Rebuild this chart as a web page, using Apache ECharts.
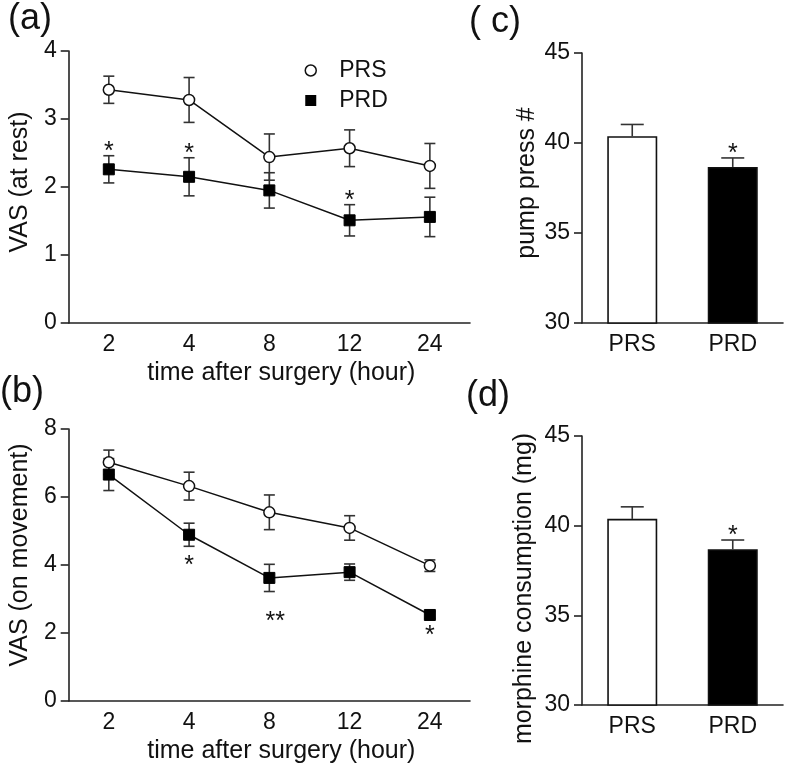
<!DOCTYPE html>
<html>
<head>
<meta charset="utf-8">
<script src="https://cdn.jsdelivr.net/npm/echarts@6/dist/echarts.min.js"></script>
<style>
html,body{margin:0;padding:0;background:#fff;}
#chart{width:787px;height:769px;}
</style>
</head>
<body>
<div id="chart"></div>
<script>
// ---- data ----
const hours = ['2', '4', '8', '12', '24'];
const prsRest = [3.43, 3.28, 2.44, 2.57, 2.31];
const prsRestSE = [0.20, 0.33, 0.34, 0.27, 0.33];
const prdRest = [2.26, 2.15, 1.95, 1.51, 1.56];
const prdRestSE = [0.20, 0.28, 0.26, 0.23, 0.29];
const prsMove = [7.02, 6.32, 5.55, 5.09, 3.98];
const prsMoveSE = [0.36, 0.41, 0.51, 0.36, 0.17];
const prdMove = [6.66, 4.89, 3.62, 3.79, 2.53];
const prdMoveSE = [0.47, 0.34, 0.40, 0.24, 0.10];
const groups = ['PRS', 'PRD'];
const pumpPress = [40.38, 38.67];
const pumpPressSE = [0.65, 0.50];
const morphine = [40.38, 38.69];
const morphineSE = [0.67, 0.51];
const starsRest = ['*', '*', '', '*', ''];
const starsMove = ['', '*', '**', '', '*'];
const starsPump = ['', '*'];
const starsMorphine = ['', '*'];

// ---- style constants ----
const FONT = '"Liberation Sans", Arial, sans-serif';
const INK = '#111';
const AX = '#222';
const starDyMove = [0, 20, 31, 0, 18];
const starDxMove = [0, 0, 6, 0, 0];

const chart = echarts.init(document.getElementById('chart'));

function errBars(xi, yi, means, ses, upperOnly, capHalf) {
  return {
    type: 'custom', xAxisIndex: xi, yAxisIndex: yi, z: 1, silent: true,
    data: means.map((m, i) => [i, m, ses[i]]),
    encode: { x: 0, y: 1 },
    renderItem: function (params, api) {
      const i = api.value(0), m = api.value(1), s = api.value(2);
      const top = api.coord([i, m + s]);
      const bot = api.coord([i, upperOnly ? m : m - s]);
      const st = { stroke: '#333', lineWidth: 1.6 };
      const kids = [
        { type: 'line', shape: { x1: top[0], y1: top[1], x2: bot[0], y2: bot[1] }, style: st },
        { type: 'line', shape: { x1: top[0] - capHalf, y1: top[1], x2: top[0] + capHalf, y2: top[1] }, style: st }
      ];
      if (!upperOnly) {
        kids.push({ type: 'line', shape: { x1: bot[0] - capHalf, y1: bot[1], x2: bot[0] + capHalf, y2: bot[1] }, style: st });
      }
      return { type: 'group', children: kids };
    }
  };
}

function starSeries(xi, yi, means, ses, stars, below, dyArr, dxArr) {
  return {
    type: 'custom', xAxisIndex: xi, yAxisIndex: yi, z: 5, silent: true,
    data: means.map((m, i) => [i, below ? m - ses[i] : m + ses[i]]),
    encode: { x: 0, y: 1 },
    renderItem: function (params, api) {
      const idx = params.dataIndex;
      const txt = stars[idx];
      if (!txt) return null;
      const p = api.coord([api.value(0), api.value(1)]);
      const dy = below ? dyArr[idx] : -4;
      const dx = dxArr ? dxArr[idx] : 0;
      return {
        type: 'text',
        style: {
          text: txt, x: p[0] + dx, y: p[1] + dy,
          align: 'center', verticalAlign: 'middle',
          fontSize: 25, fontFamily: FONT, fill: INK
        }
      };
    }
  };
}

function lineSeries(name, xi, yi, data, filled) {
  return {
    name: name, type: 'line', xAxisIndex: xi, yAxisIndex: yi, z: 3,
    data: data, symbol: filled ? 'rect' : 'circle', symbolSize: 11,
    lineStyle: { color: '#111', width: 1.5 },
    itemStyle: filled ? { color: '#000', borderColor: '#000', borderWidth: 1 }
                      : { color: '#fff', borderColor: '#111', borderWidth: 1.5 },
    emphasis: { disabled: true }, animation: false
  };
}

function catAxis(gi, cats, nameText, showName) {
  return {
    type: 'category', gridIndex: gi, data: cats, boundaryGap: true,
    axisLine: { lineStyle: { color: AX, width: 1.6 } },
    axisTick: { alignWithLabel: true, length: 8, lineStyle: { color: AX, width: 1.6 } },
    axisLabel: { color: INK, fontSize: 23, fontFamily: FONT, margin: 10 },
    name: showName ? nameText : '', nameLocation: 'middle', nameGap: 38,
    nameTextStyle: { color: INK, fontSize: 25, fontFamily: FONT, padding: [0, 0, 0, 24] }
  };
}

function valAxis(gi, min, max, interval, nameText, gap, pad) {
  return {
    type: 'value', gridIndex: gi, min: min, max: max, interval: interval,
    splitLine: { show: false },
    axisLine: { show: true, lineStyle: { color: AX, width: 1.6 } },
    axisTick: { show: true, length: 8, lineStyle: { color: AX, width: 1.6 } },
    axisLabel: { color: INK, fontSize: 23, fontFamily: FONT, margin: 12 },
    name: nameText, nameLocation: 'middle', nameGap: gap, nameRotate: 90,
    nameTextStyle: { color: INK, fontSize: 25, fontFamily: FONT, padding: pad }
  };
}

const panelTitle = (t, l, tp) => ({ text: t, left: l, top: tp, padding: 0,
  textStyle: { fontSize: 36, fontWeight: 'normal', fontFamily: FONT, color: INK, lineHeight: 36 } });

const option = {
  animation: false,
  backgroundColor: '#fff',
  title: [
    panelTitle('(a)', 8, 1),
    panelTitle('(b)', 0, 374),
    panelTitle('( c)', 469, 4),
    panelTitle('(d)', 466, 378)
  ],
  legend: {
    left: 304.5, top: 59, orient: 'vertical', padding: 0, itemGap: 7,
    itemWidth: 11, itemHeight: 11, selectedMode: false,
    textStyle: { color: INK, fontSize: 23, fontFamily: FONT, padding: [0, 0, 0, 18] },
    data: [
      { name: 'PRS', icon: 'circle', itemStyle: { color: '#fff', borderColor: '#111', borderWidth: 1.5 } },
      { name: 'PRD', icon: 'rect', itemStyle: { color: '#000', borderColor: '#000', borderWidth: 0 } }
    ]
  },
  grid: [
    { left: 63, top: 51, width: 407, height: 272 },
    { left: 63, top: 429, width: 407, height: 272 },
    { left: 582, top: 53, width: 201, height: 270 },
    { left: 582, top: 436, width: 201, height: 269 }
  ],
  xAxis: [
    catAxis(0, hours, 'time after surgery (hour)', true),
    catAxis(1, hours, 'time after surgery (hour)', true),
    catAxis(2, groups, '', false),
    catAxis(3, groups, '', false)
  ],
  yAxis: [
    valAxis(0, 0, 4, 1, 'VAS (at rest)', 28, [0, 0, 0, 10]),
    valAxis(1, 0, 8, 2, 'VAS (on movement)', 29, [0, 0, 0, 20]),
    valAxis(2, 30, 45, 5, 'pump press #', 42, [0, 0, 0, 10]),
    valAxis(3, 30, 45, 5, 'morphine consumption (mg)', 45, [0, 36, 0, 0])
  ],
  series: [
    errBars(0, 0, prsRest, prsRestSE, false, 5.5),
    errBars(0, 0, prdRest, prdRestSE, false, 5.5),
    lineSeries('PRS', 0, 0, prsRest, false),
    lineSeries('PRD', 0, 0, prdRest, true),
    starSeries(0, 0, prdRest, prdRestSE, starsRest, false),

    errBars(1, 1, prsMove, prsMoveSE, false, 5.5),
    errBars(1, 1, prdMove, prdMoveSE, false, 5.5),
    lineSeries('PRS', 1, 1, prsMove, false),
    lineSeries('PRD', 1, 1, prdMove, true),
    starSeries(1, 1, prdMove, prdMoveSE, starsMove, true, starDyMove, starDxMove),

    {
      type: 'bar', xAxisIndex: 2, yAxisIndex: 2, barWidth: 50, z: 2, silent: true,
      data: pumpPress.map((v, i) => ({ value: v, itemStyle: i === 0
        ? { color: '#fff', borderColor: '#111', borderWidth: 1.6 }
        : { color: '#000', borderColor: '#111', borderWidth: 1.6 } }))
    },
    errBars(2, 2, pumpPress, pumpPressSE, true, 11.5),
    starSeries(2, 2, pumpPress, pumpPressSE, starsPump, false),

    {
      type: 'bar', xAxisIndex: 3, yAxisIndex: 3, barWidth: 50, z: 2, silent: true,
      data: morphine.map((v, i) => ({ value: v, itemStyle: i === 0
        ? { color: '#fff', borderColor: '#111', borderWidth: 1.6 }
        : { color: '#000', borderColor: '#111', borderWidth: 1.6 } }))
    },
    errBars(3, 3, morphine, morphineSE, true, 11.5),
    starSeries(3, 3, morphine, morphineSE, starsMorphine, false)
  ]
};
chart.setOption(option);
</script>
</body>
</html>
